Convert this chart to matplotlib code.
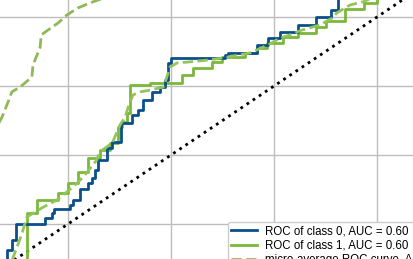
import matplotlib
matplotlib.use("Agg")
import matplotlib.pyplot as plt

plt.rcParams['font.family'] = ['Liberation Sans', 'DejaVu Sans']

# ROC of class 0 (false positive rate, true positive rate)
fpr_c0 = [0.082, 0.082, 0.091, 0.091, 0.099, 0.099, 0.155, 0.155, 0.169, 0.169, 0.173, 0.173,
          0.204, 0.204, 0.210, 0.210, 0.223, 0.223, 0.239, 0.239, 0.247, 0.247, 0.252, 0.252,
          0.258, 0.258, 0.276, 0.276, 0.286, 0.286, 0.303, 0.303, 0.324, 0.324, 0.336, 0.336,
          0.346, 0.346, 0.363, 0.363, 0.379, 0.379, 0.388, 0.388, 0.394, 0.394, 0.400, 0.400,
          0.505, 0.505, 0.511, 0.511, 0.567, 0.567, 0.588, 0.588, 0.612, 0.612, 0.647, 0.647,
          0.682, 0.682, 0.711, 0.711, 0.724, 0.724, 1.000]
tpr_c0 = [0.070, 0.125, 0.125, 0.154, 0.154, 0.200, 0.200, 0.217, 0.217, 0.232, 0.232, 0.243,
          0.243, 0.255, 0.255, 0.270, 0.270, 0.301, 0.301, 0.319, 0.319, 0.333, 0.333, 0.357,
          0.357, 0.386, 0.386, 0.420, 0.420, 0.438, 0.438, 0.493, 0.493, 0.516, 0.516, 0.530,
          0.530, 0.559, 0.559, 0.583, 0.583, 0.597, 0.597, 0.617, 0.617, 0.667, 0.667, 0.681,
          0.681, 0.690, 0.690, 0.696, 0.696, 0.719, 0.719, 0.739, 0.739, 0.757, 0.757, 0.777,
          0.777, 0.800, 0.800, 0.820, 0.820, 0.920, 1.000]

# ROC of class 1
fpr_c1 = [0.120, 0.120, 0.140, 0.140, 0.181, 0.181, 0.200, 0.200, 0.219, 0.219, 0.239, 0.239,
          0.262, 0.262, 0.282, 0.282, 0.297, 0.297, 0.305, 0.305, 0.315, 0.315, 0.320, 0.320,
          0.359, 0.359, 0.421, 0.421, 0.443, 0.443, 0.480, 0.480, 0.499, 0.499, 0.544, 0.544,
          0.567, 0.567, 0.587, 0.587, 0.618, 0.618, 0.647, 0.647, 0.682, 0.682, 0.701, 0.701,
          0.738, 0.738, 0.775, 0.775, 0.800, 0.800, 1.000]
tpr_c1 = [0.070, 0.232, 0.232, 0.270, 0.270, 0.290, 0.290, 0.319, 0.319, 0.351, 0.351, 0.391,
          0.391, 0.415, 0.415, 0.435, 0.435, 0.481, 0.481, 0.496, 0.496, 0.522, 0.522, 0.603,
          0.603, 0.609, 0.609, 0.632, 0.632, 0.652, 0.652, 0.670, 0.670, 0.684, 0.684, 0.696,
          0.696, 0.710, 0.710, 0.725, 0.725, 0.742, 0.742, 0.754, 0.754, 0.771, 0.771, 0.789,
          0.789, 0.823, 0.823, 0.841, 0.841, 0.880, 1.000]

# micro-average ROC curve
fpr_micro = [0.050, 0.072, 0.084, 0.091, 0.107, 0.130, 0.132, 0.140, 0.146, 0.148, 0.161,
             0.181, 0.198, 0.219, 0.243, 0.258, 0.350, 1.000]
tpr_micro = [0.450, 0.510, 0.555, 0.583, 0.597, 0.626, 0.661, 0.690, 0.713, 0.748, 0.762,
             0.783, 0.806, 0.826, 0.841, 0.849, 0.900, 1.000]

# macro-average ROC curve
fpr_macro = [0.087, 0.093, 0.111, 0.120, 0.152, 0.179, 0.198, 0.218, 0.233, 0.256, 0.262,
             0.286, 0.301, 0.311, 0.317, 0.326, 0.340, 0.359, 0.385, 0.392, 0.398, 0.412,
             0.437, 0.470, 0.499, 0.554, 0.588, 0.612, 0.631, 0.654, 0.689, 0.713, 0.722,
             0.748, 0.773, 1.000]
tpr_macro = [0.081, 0.101, 0.174, 0.220, 0.249, 0.270, 0.293, 0.319, 0.342, 0.386, 0.409,
             0.435, 0.487, 0.510, 0.539, 0.574, 0.583, 0.588, 0.597, 0.626, 0.655, 0.667,
             0.670, 0.675, 0.681, 0.696, 0.719, 0.739, 0.748, 0.762, 0.777, 0.797, 0.812,
             0.835, 0.844, 1.000]

labels = ["ROC of class 0, AUC = 0.60",
          "ROC of class 1, AUC = 0.60",
          "micro-average ROC curve, AUC = 0.80",
          "macro-average ROC curve, AUC = 0.60"]
colors = ["#0b4f8a", "#7ab83a", "#8fb957", "#93c45a"]

fig = plt.figure(figsize=(4.13, 2.59), dpi=100)
ax = fig.add_axes([0, 0, 1, 1])

ax.plot(fpr_c0, tpr_c0, color=colors[0], lw=2.0, label=labels[0], zorder=4)
ax.plot(fpr_c1, tpr_c1, color=colors[1], lw=2.0, label=labels[1], zorder=3)
ax.plot(fpr_micro, tpr_micro, color=colors[2], lw=2.0, ls="--", label=labels[2], zorder=3)
ax.plot(fpr_macro, tpr_macro, color=colors[3], lw=2.0, ls="--", label=labels[3], zorder=5)
ax.plot([0, 1], [0, 1], color="black", lw=2.0, ls=":", zorder=2)

ax.set_xlim(0.068, 0.8699)
ax.set_ylim(0.0986, 0.8493)
ax.set_xticks([0.2, 0.4, 0.6, 0.8])
ax.set_yticks([0.2, 0.4, 0.6, 0.8])
ax.grid(True, color="#bdbdbd", lw=1.0)
ax.tick_params(length=0, labelbottom=False, labelleft=False)
for s in ax.spines.values():
    s.set_visible(False)

leg = ax.legend(loc="upper left", bbox_to_anchor=(0.552, 0.143), fontsize=8.3,
                frameon=True, framealpha=1.0, edgecolor="#cccccc", borderaxespad=0,
                borderpad=0.3, handlelength=2.2, handletextpad=0.7, labelspacing=0.2)
leg.set_zorder(10)

fig.savefig("out.png", dpi=100)
